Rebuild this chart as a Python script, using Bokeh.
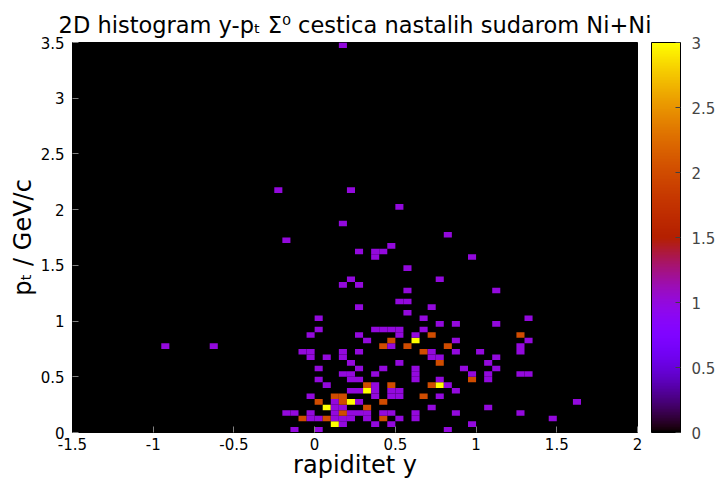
import math
from bokeh.plotting import figure
from bokeh.models import (ColumnDataSource, LinearColorMapper, ColorBar, FixedTicker)
from bokeh.transform import transform
from bokeh.embed import file_html
from bokeh.resources import INLINE

# ---- data: 2D histogram cells (lower-left corner of each 0.05 x 0.05 bin) and counts ----
BIN = 0.05
x_lo = [
    -0.15, 0.0, 0.8,
    0.1, 0.15, 0.35, 0.45, 0.95,
    -0.1, -0.05, 0.0, 0.05, 0.1, 0.15, 0.2, 0.3, 0.4, 0.5, 0.6, 1.45,
    -0.2, -0.15, -0.05, 0.1, 0.15, 0.2, 0.25, 0.3, 0.4, 0.45, 0.6, 0.85, 1.25,
    0.05, 0.1, 0.15, 0.3, 0.7, 1.05,
    0.0, 0.1, 0.15, 0.2, 0.25, 0.4, 1.6,
    -0.05, 0.1, 0.15, 0.35, 0.45, 0.5, 0.65, 0.75,
    0.2, 0.25, 0.3, 0.35, 0.45, 0.5, 0.85,
    0.05, 0.3, 0.35, 0.45, 0.7, 0.75, 0.8,
    0.0, 0.2, 0.25, 0.6, 0.75, 0.95, 1.05,
    0.15, 0.2, 0.35, 0.6, 0.95, 1.05, 1.25, 1.3,
    0.0, 0.25, 0.4, 0.6, 0.9, 1.1,
    0.2, 0.5, 0.75, 1.05,
    -0.05, 0.05, 0.15, 0.7, 0.75, 1.1,
    -0.1, -0.05, 0.15, 0.25, 0.65, 0.7, 0.85, 1.0, 1.25,
    -0.95, -0.65, 0.4, 0.45, 0.55, 0.8, 1.25,
    0.3, 0.45, 0.6, 0.85, 1.3,
    -0.05, 0.25, 0.5, 0.6, 0.7, 1.25,
    0.0, 0.35, 0.4, 0.45, 0.5, 0.65,
    0.75, 0.85, 1.1,
    0.0, 0.65, 1.3,
    0.55,
    0.25, 0.7,
    0.5, 0.55,
    0.55, 1.1,
    0.15, 0.25,
    0.2, 0.75,
    0.55,
    0.35, 0.95,
    0.25, 0.35, 0.4,
    0.45,
    -0.2,
    0.8,
    0.15,
    0.5,
    -0.25, 0.2,
    0.15,
]
y_lo = (
    [0.00] * 3 + [0.05] * 5 + [0.10] * 12 + [0.15] * 13 + [0.20] * 6 + [0.25] * 7
    + [0.30] * 8 + [0.35] * 7 + [0.40] * 7 + [0.45] * 7 + [0.50] * 8 + [0.55] * 6
    + [0.60] * 4 + [0.65] * 6 + [0.70] * 9 + [0.75] * 7 + [0.80] * 5 + [0.85] * 6
    + [0.90] * 6 + [0.95] * 3 + [1.00] * 3 + [1.05] * 1 + [1.10] * 2 + [1.15] * 2
    + [1.25] * 2 + [1.30] * 2 + [1.35] * 2 + [1.45] * 1 + [1.55] * 2 + [1.60] * 3
    + [1.65] * 1 + [1.70] * 1 + [1.75] * 1 + [1.85] * 1 + [2.00] * 1 + [2.15] * 2
    + [3.45] * 1
)
counts = [
    1, 1, 1,
    3, 1, 1, 1, 1,
    2, 1, 1, 2, 1, 1, 1, 1, 2, 1, 1, 1,
    1, 1, 1, 1, 2, 1, 1, 1, 1, 1, 1, 1, 1,
    3, 1, 1, 2, 1, 1,
    2, 1, 2, 3, 1, 2, 1,
    1, 2, 2, 1, 1, 1, 2, 1,
    1, 1, 3, 1, 1, 1, 1,
    1, 2, 1, 2, 2, 3, 1,
    1, 1, 1, 1, 1, 2, 1,
    1, 1, 1, 1, 1, 1, 1, 1,
    1, 1, 1, 1, 1, 1,
    1, 1, 2, 1,
    1, 1, 1, 1, 1, 1,
    1, 1, 1, 1, 2, 1, 1, 1, 1,
    1, 1, 2, 1, 2, 2, 1,
    1, 2, 3, 1, 1,
    1, 1, 1, 1, 2, 2,
    1, 1, 1, 1, 1, 1,
    1, 1, 1,
    1, 1, 1,
    1,
    1, 1,
    1, 1,
    1, 1,
    1, 1,
    1, 1,
    1,
    1, 1,
    1, 1, 1,
    1,
    1,
    1,
    1,
    1,
    1, 1,
    1,
]

x_ticks = [-1.5, -1.0, -0.5, 0.0, 0.5, 1.0, 1.5, 2.0]
x_tick_labels = ["-1.5", "-1", "-0.5", "0", "0.5", "1", "1.5", "2"]
y_ticks = [0.0, 0.5, 1.0, 1.5, 2.0, 2.5, 3.0, 3.5]
y_tick_labels = ["0", "0.5", "1", "1.5", "2", "2.5", "3", "3.5"]
cb_ticks = [0.0, 0.5, 1.0, 1.5, 2.0, 2.5, 3.0]
cb_tick_labels = ["0", "0.5", "1", "1.5", "2", "2.5", "3"]

TITLE = "2D histogram y-p\u209c \u03a3\u2070 cestica nastalih sudarom Ni+Ni"
X_LABEL = "rapiditet y"
Y_LABEL = "p\u209c / GeV/c"

FONT = "DejaVu Sans"


def gp_color(v):
    r = math.sqrt(v)
    g = v ** 3
    b = max(0.0, math.sin(2 * math.pi * v))
    return "#%02x%02x%02x" % (round(r * 255), round(g * 255), round(b * 255))


palette = [gp_color(i / 255) for i in range(256)]
mapper = LinearColorMapper(palette=palette, low=0, high=3)

source = ColumnDataSource(dict(
    left=x_lo,
    right=[v + BIN for v in x_lo],
    bottom=y_lo,
    top=[v + BIN for v in y_lo],
    count=counts,
))

p = figure(width=718, height=482, x_range=(-1.5, 2.0), y_range=(0, 3.5),
           output_backend="svg", toolbar_location=None, title=TITLE,
           min_border_left=72, min_border_right=81, min_border_top=42, min_border_bottom=50)
p.title.text_font = FONT
p.title.text_font_size = "22.5px"
p.title.text_font_style = "normal"
p.title.text_color = "black"
p.title.align = "center"
p.title.standoff = 9

p.background_fill_color = "black"
p.border_fill_color = "white"
p.outline_line_color = "black"
p.grid.visible = False

p.quad(left="left", right="right", bottom="bottom", top="top", source=source,
       fill_color=transform("count", mapper), line_color=None)

for ax in (p.xaxis[0], p.yaxis[0]):
    ax.axis_line_color = "black"
    ax.major_tick_in = 6
    ax.major_tick_out = 0
    ax.major_tick_line_color = "#808080"
    ax.minor_tick_line_color = None
    ax.major_label_text_font = FONT
    ax.major_label_text_font_size = "15px"
    ax.major_label_text_color = "black"
    ax.axis_label_text_font = FONT
    ax.axis_label_text_font_size = "24px"
    ax.axis_label_text_font_style = "normal"
    ax.axis_label_text_color = "black"

p.xaxis[0].ticker = FixedTicker(ticks=x_ticks)
p.xaxis[0].major_label_overrides = dict(zip(x_ticks, x_tick_labels))
p.xaxis[0].major_label_standoff = 5
p.xaxis[0].axis_label = X_LABEL
p.xaxis[0].axis_label_standoff = -2

p.yaxis[0].ticker = FixedTicker(ticks=y_ticks)
p.yaxis[0].major_label_overrides = dict(zip(y_ticks, y_tick_labels))
p.yaxis[0].major_label_standoff = 8
p.yaxis[0].axis_label = Y_LABEL
p.yaxis[0].axis_label_standoff = 1

cb = ColorBar(color_mapper=mapper, location=(579, 0), width=29, height=390,
              padding=0, margin=0, ticker=FixedTicker(ticks=cb_ticks),
              major_label_overrides=dict(zip(cb_ticks, cb_tick_labels)),
              major_label_text_font=FONT, major_label_text_font_size="15px",
              label_standoff=11, bar_line_color="black",
              major_tick_line_color="#404040", major_tick_in=5, major_tick_out=0,
              minor_tick_line_color=None, background_fill_color=None,
              border_line_color=None)
p.add_layout(cb, "center")

open("out.html", "w").write(file_html(p, INLINE))
